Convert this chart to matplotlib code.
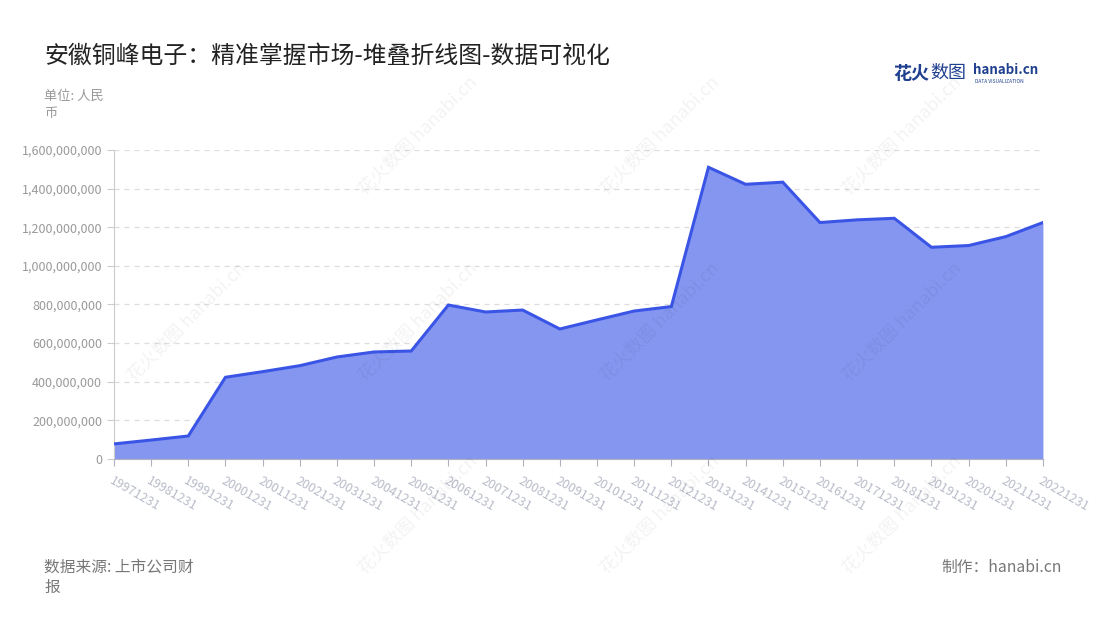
import matplotlib
matplotlib.use('Agg')
import matplotlib.pyplot as plt
import matplotlib.ticker as mticker
import numpy as np

plt.rcParams['font.family'] = ['Noto Sans CJK SC', 'DejaVu Sans']

# data
dates = ['19971231', '19981231', '19991231', '20001231', '20011231', '20021231',
         '20031231', '20041231', '20051231', '20061231', '20071231', '20081231',
         '20091231', '20101231', '20111231', '20121231', '20131231', '20141231',
         '20151231', '20161231', '20171231', '20181231', '20191231', '20201231',
         '20211231', '20221231']
values = [78e6, 98e6, 119e6, 423e6, 452e6, 483e6,
          528e6, 554e6, 559e6, 797e6, 761e6, 771e6,
          673e6, 720e6, 766e6, 789e6, 1510e6, 1422e6,
          1433e6, 1224e6, 1238e6, 1246e6, 1096e6, 1105e6,
          1151e6, 1224e6]
yticks = [0, 200e6, 400e6, 600e6, 800e6, 1000e6, 1200e6, 1400e6, 1600e6]

line_c = '#3a55e6'
fill_c = '#8596f1'
grey = '#999999'

fig = plt.figure(figsize=(11, 6.2), dpi=100)
ax = fig.add_axes([0.1036, 0.2597, 0.8445, 0.4985])

x = np.arange(len(dates))
ax.fill_between(x, values, 0, color=fill_c, lw=0, zorder=2)
ax.plot(x, values, color=line_c, lw=2.2, zorder=3, solid_joinstyle='miter')

ax.set_xlim(0, len(dates) - 1)
ax.set_ylim(0, 1600e6)
ax.set_yticks(yticks)
ax.yaxis.set_major_formatter(mticker.FuncFormatter(lambda v, p: f'{int(v):,}'))
ax.set_xticks(x)
ax.set_xticklabels(dates, rotation=-30, ha='left', va='top', rotation_mode='anchor')

ax.grid(axis='y', color='#dddddd', ls=(0, (4, 4)), lw=0.9, zorder=1)
for s in ['top', 'right']:
    ax.spines[s].set_visible(False)
ax.spines['left'].set_color('#cccccc')
ax.spines['bottom'].set_color('#b0b0c0')
ax.tick_params(axis='y', colors='#cccccc', labelcolor=grey, labelsize=9, length=5)
ax.tick_params(axis='x', colors='#b0b0c0', labelcolor='#b8bcc8', labelsize=9, length=5, pad=6)

# titles and notes
fig.text(0.040, 0.910, '安徽铜峰电子：精准掌握市场-堆叠折线图-数据可视化', fontsize=17.2,
         color='#222222', va='center')
fig.text(0.040, 0.845, '单位: 人民', fontsize=9.5, color=grey, va='center')
fig.text(0.040, 0.817, '币', fontsize=9.5, color=grey, va='center')
fig.text(0.040, 0.085, '数据来源: 上市公司财', fontsize=11.3, color='#777777', va='center')
fig.text(0.040, 0.052, '报', fontsize=11.3, color='#777777', va='center')
fig.text(0.965, 0.085, '制作：hanabi.cn', fontsize=11.3, color='#777777', va='center', ha='right')

# logo
fig.text(0.812, 0.882, '花火', fontsize=13, color='#1f3f8f', fontweight='bold', va='center')
fig.text(0.846, 0.882, '数图', fontsize=13, color='#1f3f8f', va='center')
fig.text(0.885, 0.887, 'hanabi.cn', fontsize=9.6, color='#1f3f8f', fontweight='bold', va='center')
fig.text(0.886, 0.868, 'DATA VISUALIZATION', fontsize=3.5, color='#1f3f8f', va='center')

# watermarks
for wx in [0.38, 0.60, 0.82]:
    for wy in [0.78, 0.48, 0.17]:
        fig.text(wx, wy, '花火数图 hanabi.cn', fontsize=13, color='#000000', alpha=0.05,
                 rotation=45, ha='center', va='center')
fig.text(0.17, 0.48, '花火数图 hanabi.cn', fontsize=13, color='#000000', alpha=0.05,
         rotation=45, ha='center', va='center')

fig.savefig('out.png', dpi=100)
